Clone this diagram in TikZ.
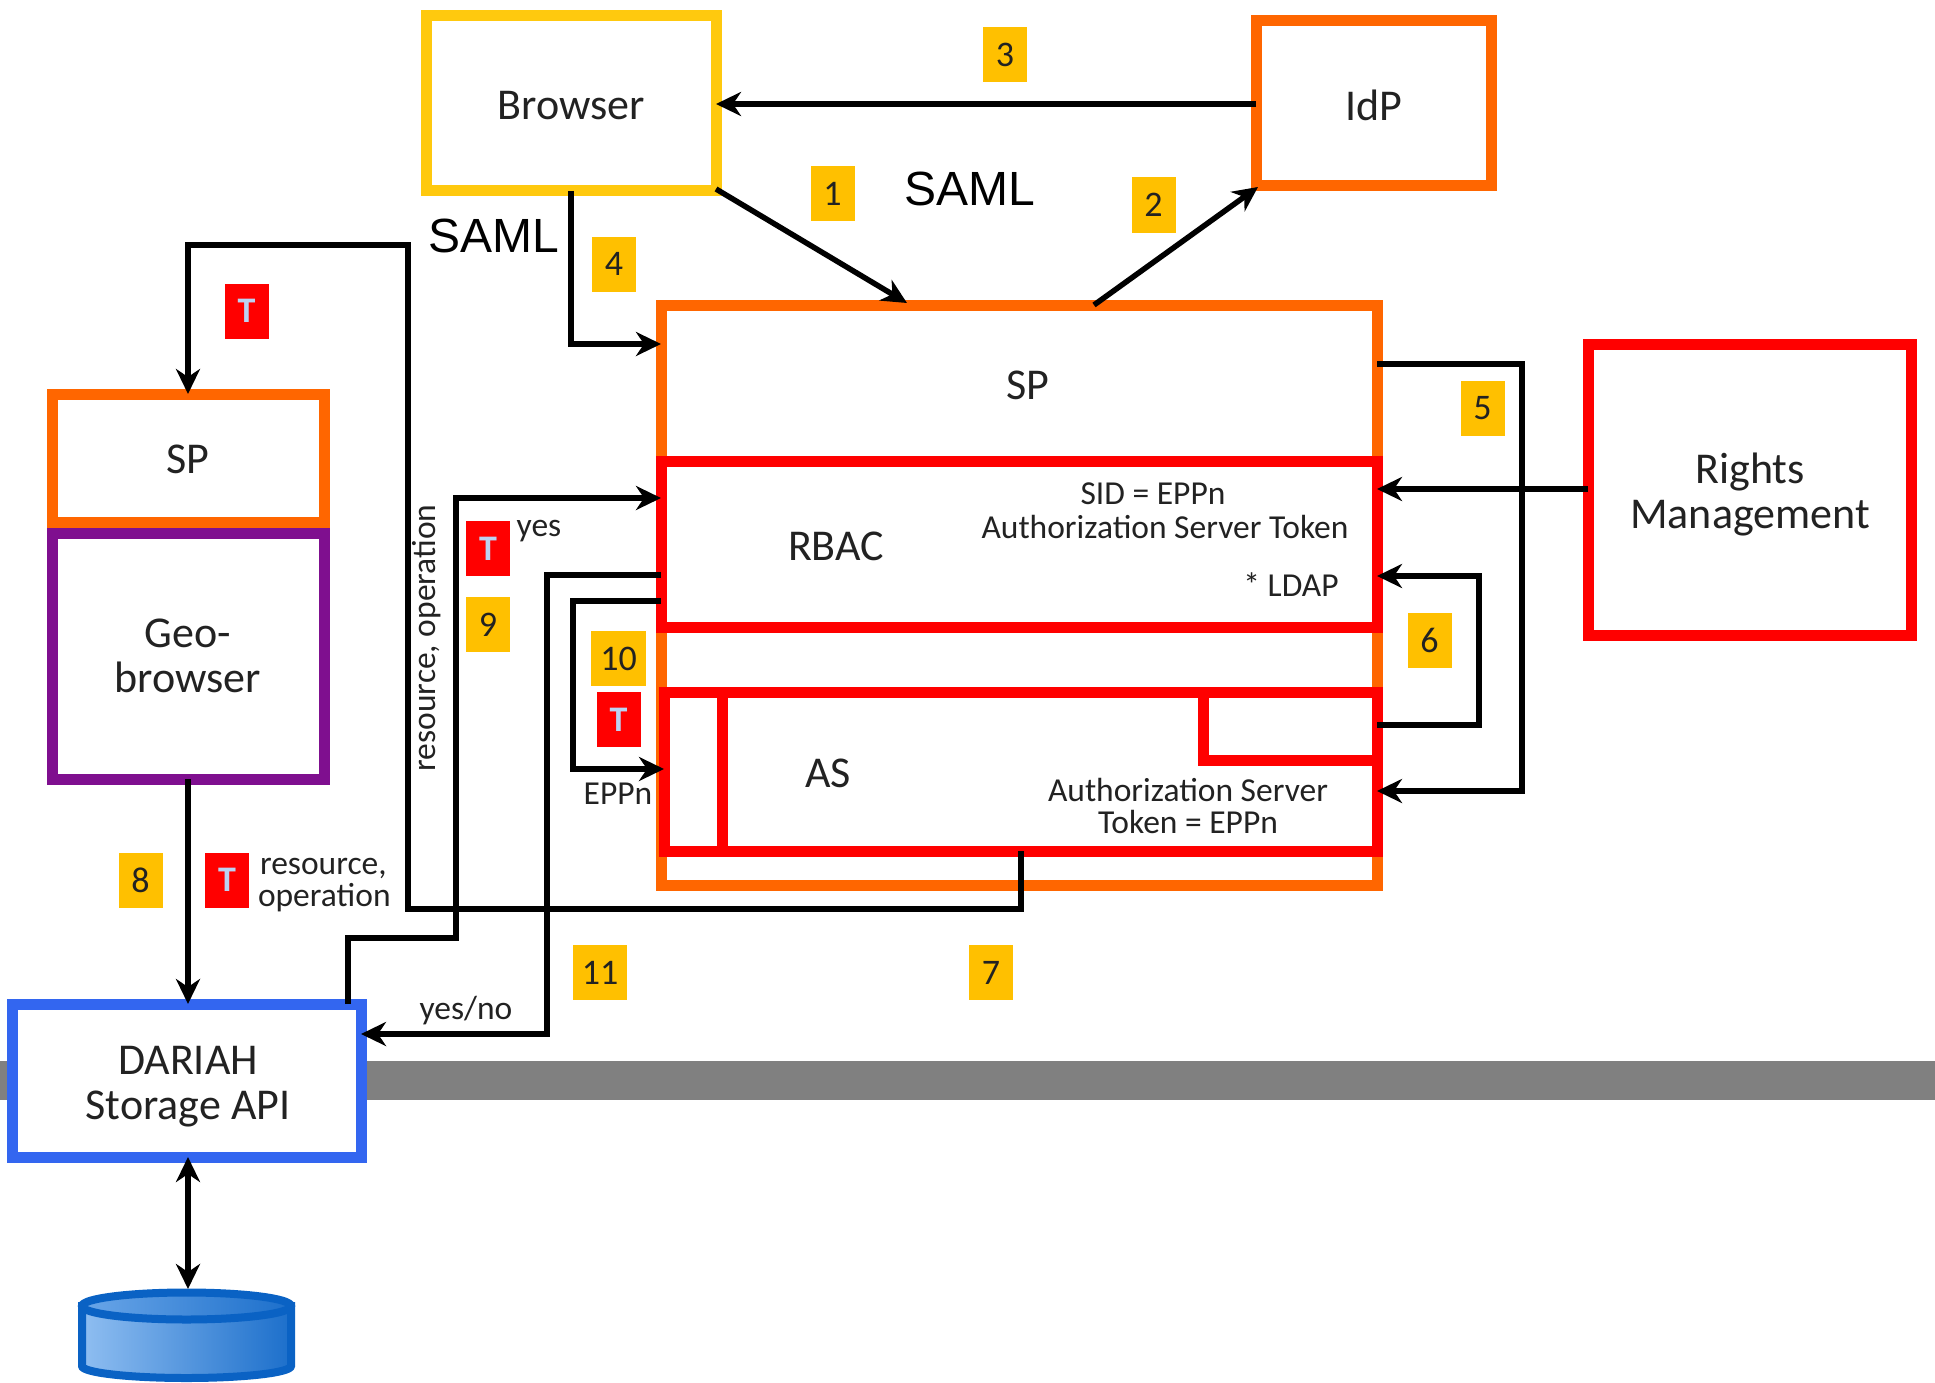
\documentclass[tikz,border=0pt]{standalone}
\usepackage{fontspec}
\setmainfont{Carlito}
\newfontfamily\samlfont{Liberation Sans}
\usetikzlibrary{arrows.meta}
\definecolor{cOrange}{HTML}{FF6600}
\definecolor{cRed}{HTML}{FF0000}
\definecolor{cYellow}{HTML}{FFC000}
\definecolor{cGold}{HTML}{FFC90E}
\definecolor{cPurple}{HTML}{7F0F8F}
\definecolor{cBlue}{HTML}{3366F0}
\definecolor{cDisk}{HTML}{0A62C4}
\definecolor{cDiskL}{HTML}{8FBEF1}
\definecolor{cDiskR}{HTML}{1C6FCB}
\definecolor{cDiskM}{HTML}{6AA6E8}
\definecolor{cTee}{HTML}{BCD2F2}
\definecolor{cInk}{HTML}{222222}
\newcommand{\myfs}[2]{\fontsize{#1pt}{#2pt}\selectfont}
\tikzset{
  x=1pt,y=-1pt,
  box/.style={draw,fill=white,line width=11pt,inner sep=0pt,outer sep=0pt},
  lab/.style={inner sep=0pt,outer sep=0pt,text=cInk,align=center,font=\myfs{33.5}{35}},
  biglab/.style={inner sep=0pt,outer sep=0pt,text=cInk,align=center,font=\myfs{44}{44.5}},
  bignum/.style={inner sep=0pt,outer sep=0pt,fill=cYellow,text=cInk,minimum width=44pt,minimum height=55pt,font=\myfs{36}{38}},
  tee/.style={inner sep=0pt,outer sep=0pt,fill=cRed,text=cTee,minimum width=44pt,minimum height=55pt,font=\myfs{36}{38}\bfseries},
  saml/.style={inner sep=0pt,outer sep=0pt,text=black,font=\samlfont\myfs{48}{50}},
  conn/.style={draw=black,line width=5.5pt,line join=miter},
  arr/.style={conn,-{Stealth[length=25pt,width=24pt,inset=8pt]}},
  darr/.style={conn,{Stealth[length=25pt,width=24pt,inset=8pt]}-{Stealth[length=25pt,width=24pt,inset=8pt]}},
}
\begin{document}
\begin{tikzpicture}
\useasboundingbox (0,0) rectangle (1935,1383);
% grey bar
\fill[fill=gray] (0,1061) rectangle (1935,1100);
% boxes
\node[box,draw=cGold,minimum width=290pt,minimum height=175pt] (browser) at (571,103.5) {};
\node[box,draw=cOrange,minimum width=235pt,minimum height=165pt] (idp) at (1373.5,103.5) {};
\node[box,draw=cOrange,minimum width=716pt,minimum height=580pt,anchor=north west] (spmain) at (661,305) {};
\node[box,draw=cRed,minimum width=716pt,minimum height=166pt,anchor=north west] (rbac) at (661,461) {};
\node[box,draw=cRed,minimum width=713pt,minimum height=159pt,anchor=north west] (as) at (664,692) {};
\draw[line width=11pt,cRed] (722,692) -- (722,851);
\draw[line width=11pt,cRed,line cap=rect] (1203,692) -- (1203,760) -- (1377,760);
\node[box,draw=cRed,minimum width=323pt,minimum height=291pt] (rights) at (1749.5,489.5) {};
\node[box,draw=cOrange,minimum width=272pt,minimum height=128pt,anchor=north west] (spleft) at (52,394) {};
\node[box,draw=cPurple,minimum width=272pt,minimum height=246pt,anchor=north west] (geo) at (52,533) {};
\node[box,draw=cBlue,minimum width=349pt,minimum height=153pt,anchor=north west] (dariah) at (12,1004) {};
% disk
\shade[left color=cDiskL,right color=cDiskR,draw=cDisk,line width=8pt]
  (82,1306) -- (82,1366) arc[start angle=180,end angle=360,x radius=104.5pt,y radius=12pt] -- (291,1306) -- cycle;
\shade[left color=cDiskM,right color=cDiskR,draw=cDisk,line width=8pt]
  (186.5,1306) ellipse [x radius=104.5pt,y radius=13.5pt];
\node[inner sep=0pt,outer sep=0pt,minimum width=217pt,minimum height=93pt] (db) at (186.5,1335.5) {};
% box labels
\node[biglab] (tbrowser) at (571,106) {Browser};
\node[biglab] (tidp) at (1373.5,105) {IdP};
\node[biglab] (trights) at (1750,494.5) {Rights\\Management};
\node[biglab] (tspl) at (188,459) {SP};
\node[biglab] (tgeo) at (188,656) {Geo-\\browser};
\node[biglab] (tdar) at (188,1086.5) {DARIAH\\Storage API};
\node[biglab] (tsp) at (1028,385) {SP};
\node[biglab] (trbac) at (836,546) {RBAC};
\node[biglab] (tas) at (828,773) {AS};
% labels
\node[lab] (tsid) at (1153,494) {SID = EPPn};
\node[lab] (ttok) at (1165,527) {Authorization Server Token};
\node[lab] (tldap) at (1291,585) {* LDAP};
\node[lab] (tasa) at (1188,790) {Authorization Server};
\node[lab] (tasb) at (1188,822) {Token = EPPn};
\node[lab] (tyes) at (539,531) {yes};
\node[lab] (teppn) at (618,794) {EPPn};
\node[lab,anchor=west] (tra) at (260,868) {resource,};
\node[lab,anchor=west] (trb) at (258,898) {operation};
\node[lab] (tyn) at (466,1011) {yes/no};
\node[lab,rotate=90] (trot) at (427,638) {resource, operation};
\node[saml] (saml1) at (970,189) {SAML};
\node[saml] (saml2) at (494,236) {SAML};
% connectors
\coordinate (c1a) at (716,189); \coordinate (c1b) at (907,303);
\coordinate (c2a) at (1094,305); \coordinate (c2b) at (1258,187);
\path[arr] (idp.west |- 0,104) -- (browser.east |- 0,104);
\path[arr] (c1a) -- (c1b);
\path[arr] (c2a) -- (c2b);
\path[arr] (browser.south) -- (571,344) -- (spmain.west |- 0,344);
\path[arr] (1377,364) -- (1522,364) -- (1522,791) -- (as.east |- 0,791);
\path[arr] (rights.west |- 0,489) -- (rbac.east |- 0,489);
\path[arr] (1377,725) -- (1479,725) -- (1479,576) -- (rbac.east |- 0,576);
\path[arr] (1021,851) -- (1021,909) -- (408,909) -- (408,245) -- (188,245) -- (spleft.north);
\path[arr] (geo.south) -- (geo.south |- dariah.north);
\path[darr] (geo.south |- dariah.south) -- (geo.south |- db.north);
\path[arr] (348,1004) -- (348,938) -- (456,938) -- (456,498) -- (rbac.west |- 0,498);
\path[arr] (661,575) -- (547,575) -- (547,1034) -- (dariah.east |- 0,1034);
\path[arr] (661,601) -- (573,601) -- (573,769) -- (as.west |- 0,769);
% badges
\node[bignum] (n3) at (1005,54.5) {3};
\node[bignum] (n1) at (832.5,194) {1};
\node[bignum] (n2) at (1153.5,205) {2};
\node[bignum] (n4) at (614,264) {4};
\node[bignum] (n5) at (1482.5,408.5) {5};
\node[bignum] (n6) at (1429.5,640.5) {6};
\node[bignum] (n9) at (488,624.5) {9};
\node[bignum,minimum width=55pt] (n10) at (618.5,658.5) {10};
\node[bignum] (n8) at (140.5,880) {8};
\node[bignum,minimum width=54pt] (n11) at (600,972.5) {11};
\node[bignum] (n7) at (991,972.5) {7};
\node[tee] (t1) at (246.5,311) {T};
\node[tee] (t9) at (488,548.5) {T};
\node[tee] (t10) at (618.5,719.5) {T};
\node[tee] (t8) at (227,880) {T};
\end{tikzpicture}
\end{document}
